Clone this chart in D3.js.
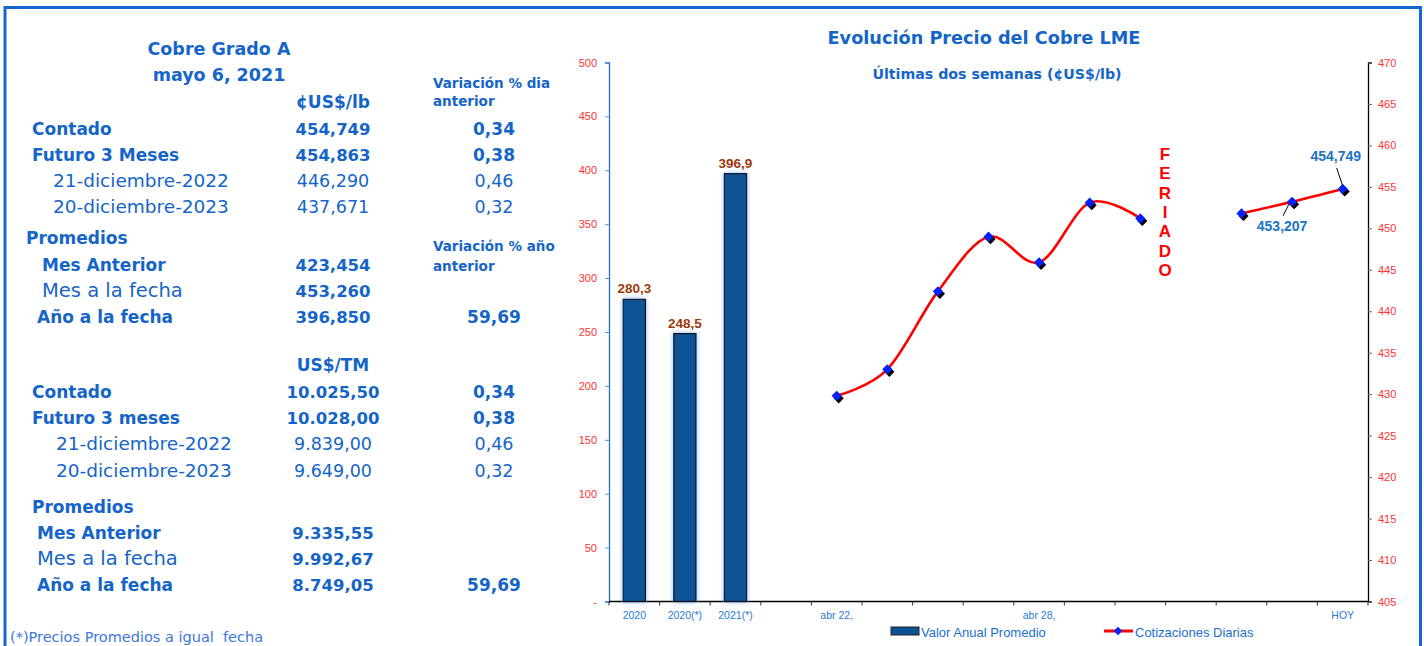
<!DOCTYPE html>
<html>
<head>
<meta charset="utf-8">
<script src="https://cdn.jsdelivr.net/npm/d3@7"></script>
<style>
  body { margin: 0; background: #fff; }
  svg { display: block; }
</style>
</head>
<body>
<script>
"use strict";

// ---- data ----
const categories = ["2020", "2020(*)", "2021(*)", "", "abr 22,", "", "", "", "abr 28,", "", "", "", "", "", "HOY"]
const barValues = [280.3, 248.5, 396.9]
const barLabels = ["280,3", "248,5", "396,9"]
const dailyValues = [null, null, null, null, 429.8, 433.0, 442.4, 449.0, 445.9, 453.1, 451.2, null, 451.8, 453.207, 454.749]
const leftTicks = [0, 50, 100, 150, 200, 250, 300, 350, 400, 450, 500]
const rightTicks = [405, 410, 415, 420, 425, 430, 435, 440, 445, 450, 455, 460, 465, 470]

// table: ¢US$/lb
const lbLabels = ["Contado", "Futuro 3 Meses", "21-diciembre-2022", "20-diciembre-2023"]
const lbValues = ["454,749", "454,863", "446,290", "437,671"]
const lbDayVar = ["0,34", "0,38", "0,46", "0,32"]
const lbAvgLabels = ["Mes Anterior", "Mes a la fecha", "Año a la fecha"]
const lbAvgValues = ["423,454", "453,260", "396,850"]
const lbYearVar = ["", "", "59,69"]

// table: US$/TM
const tmLabels = ["Contado", "Futuro 3 meses", "21-diciembre-2022", "20-diciembre-2023"]
const tmValues = ["10.025,50", "10.028,00", "9.839,00", "9.649,00"]
const tmDayVar = ["0,34", "0,38", "0,46", "0,32"]
const tmAvgLabels = ["Mes Anterior", "Mes a la fecha", "Año a la fecha"]
const tmAvgValues = ["9.335,55", "9.992,67", "8.749,05"]
const tmYearVar = ["", "", "59,69"]

const W = 1424, H = 646
const blue = "#1565c8"
const tableFont = "'DejaVu Sans', sans-serif"
const chartFont = "'Liberation Sans', Arial, sans-serif"

const svg = d3.select("body").append("svg")
    .attr("width", W)
    .attr("height", H)

// frame
svg.append("path")
    .attr("d", "M5,646 V7.5 H1420.5 V646")
    .attr("fill", "none")
    .attr("stroke", "#1466d0")
    .attr("stroke-width", 3)

// ---------- left table ----------
function txt(x, y, s, size, bold, anchor, color) {
    svg.append("text")
        .attr("x", x)
        .attr("y", y)
        .attr("text-anchor", anchor || "start")
        .style("font-family", tableFont)
        .style("font-size", size + "px")
        .style("font-weight", bold ? "bold" : "normal")
        .style("white-space", "pre")
        .style("fill", color || blue)
        .text(s)
}

const numX = 333, pctX = 494
const boldSize = 17, thinSize = 18.5, numThin = 17.5

txt(219, 55, "Cobre Grado A", 17.5, true, "middle")
txt(219, 81, "mayo 6, 2021", 17.5, true, "middle")
txt(numX, 108, "¢US$/lb", 17, true, "middle")
txt(433, 88, "Variación % dia", 13.5, true)
txt(433, 106, "anterior", 13.5, true)

// block 1
const lbRowY = [135, 161, 187, 213]
const lbRowX = [32, 32, 53, 53]
const lbBold = [true, true, false, false]
lbLabels.forEach((s, i) => {
    txt(lbRowX[i], lbRowY[i], s, lbBold[i] ? boldSize : thinSize, lbBold[i])
    txt(numX, lbRowY[i], lbValues[i], lbBold[i] ? 16.5 : numThin, lbBold[i], "middle")
    txt(pctX, lbRowY[i], lbDayVar[i], lbBold[i] ? boldSize : numThin, lbBold[i], "middle")
})
txt(26, 244, "Promedios", boldSize, true)
txt(433, 251, "Variación % año", 13.5, true)
txt(433, 271, "anterior", 13.5, true)
const lbAvgY = [271, 297, 323]
const lbAvgX = [42, 42, 37]
const avgBold = [true, false, true]
lbAvgLabels.forEach((s, i) => {
    txt(lbAvgX[i], lbAvgY[i], s, avgBold[i] ? boldSize : thinSize + 1, avgBold[i])
    txt(numX, lbAvgY[i], lbAvgValues[i], 16.5, true, "middle")
    if (lbYearVar[i]) txt(pctX, lbAvgY[i], lbYearVar[i], boldSize, true, "middle")
})

// block 2
txt(numX, 371, "US$/TM", 17, true, "middle")
const tmRowY = [398, 424, 450, 477]
const tmRowX = [32, 32, 56, 56]
tmLabels.forEach((s, i) => {
    txt(tmRowX[i], tmRowY[i], s, lbBold[i] ? boldSize : thinSize, lbBold[i])
    txt(numX, tmRowY[i], tmValues[i], lbBold[i] ? 16.5 : numThin, lbBold[i], "middle")
    txt(pctX, tmRowY[i], tmDayVar[i], lbBold[i] ? boldSize : numThin, lbBold[i], "middle")
})
txt(32, 513, "Promedios", boldSize, true)
const tmAvgY = [539, 565, 591]
tmAvgLabels.forEach((s, i) => {
    txt(37, tmAvgY[i], s, avgBold[i] ? boldSize : thinSize + 1, avgBold[i])
    txt(numX, tmAvgY[i], tmAvgValues[i], 16.5, true, "middle")
    if (tmYearVar[i]) txt(pctX, tmAvgY[i], tmYearVar[i], boldSize, true, "middle")
})

txt(10, 642, "(*)Precios Promedios a igual  fecha", 14.5, false, "start", "#3d78e0")

// ---------- chart ----------
const plot = { left: 609, right: 1368, top: 62.5, bottom: 601.5 }

const x = d3.scaleBand()
    .domain(d3.range(categories.length))
    .range([plot.left, plot.right])

const yLeft = d3.scaleLinear()
    .domain([0, 500])
    .range([plot.bottom, plot.top])

const yRight = d3.scaleLinear()
    .domain([405, 470])
    .range([plot.bottom, plot.top])

// titles
svg.append("text")
    .attr("x", 984).attr("y", 44)
    .attr("text-anchor", "middle")
    .style("font-family", tableFont)
    .style("font-size", "17.7px")
    .style("font-weight", "bold")
    .style("fill", blue)
    .text("Evolución Precio del Cobre LME")

svg.append("text")
    .attr("x", 997).attr("y", 79)
    .attr("text-anchor", "middle")
    .style("font-family", tableFont)
    .style("font-size", "14.2px")
    .style("font-weight", "bold")
    .style("fill", blue)
    .text("Últimas dos semanas (¢US$/lb)")

// glow behind bars
const defs = svg.append("defs")
defs.append("filter")
    .attr("id", "glow")
    .attr("x", "-50%").attr("y", "-10%")
    .attr("width", "200%").attr("height", "120%")
    .append("feDropShadow")
    .attr("dx", 0).attr("dy", 0)
    .attr("stdDeviation", 2.2)
    .attr("flood-color", "#6fa8ff")
    .attr("flood-opacity", 0.9)

// left axis
const gLeft = svg.append("g")
    .attr("transform", `translate(${plot.left},0)`)
    .call(d3.axisLeft(yLeft)
        .tickValues(leftTicks)
        .tickSize(4)
        .tickPadding(8)
        .tickFormat(d => d === 0 ? "-" : d))
gLeft.select(".domain").attr("stroke", "#1a6fd0").attr("stroke-width", 1.3)
gLeft.selectAll(".tick line").attr("stroke", "#5a8fd8")
gLeft.selectAll(".tick text")
    .style("font-family", chartFont)
    .style("font-size", "11px")
    .style("fill", "#ff3333")

// right axis
const gRight = svg.append("g")
    .attr("transform", `translate(${plot.right},0)`)
    .call(d3.axisRight(yRight)
        .tickValues(rightTicks)
        .tickSize(4)
        .tickPadding(6))
gRight.select(".domain").attr("stroke", "#000").attr("stroke-width", 1.3)
gRight.selectAll(".tick line").attr("stroke", "#666")
gRight.selectAll(".tick text")
    .style("font-family", chartFont)
    .style("font-size", "11px")
    .style("fill", "#ff3333")

// x axis
svg.append("line")
    .attr("x1", plot.left).attr("x2", plot.right)
    .attr("y1", plot.bottom).attr("y2", plot.bottom)
    .attr("stroke", "#000").attr("stroke-width", 1.5)

svg.selectAll(".xtick")
    .data(d3.range(categories.length + 1))
    .enter()
    .append("line")
    .attr("class", "xtick")
    .attr("x1", i => plot.left + i * x.step())
    .attr("x2", i => plot.left + i * x.step())
    .attr("y1", plot.bottom)
    .attr("y2", plot.bottom + 4)
    .attr("stroke", "#333")

const gX = svg.append("g")
    .attr("transform", `translate(0,${plot.bottom})`)
    .call(d3.axisBottom(x).tickSize(0).tickPadding(10).tickFormat(i => categories[i]))
gX.select(".domain").remove()
gX.selectAll(".tick text")
    .style("font-family", chartFont)
    .style("font-size", "10.5px")
    .style("fill", "#2a7ad5")

// bars
const barW = x.bandwidth() * 0.44
svg.selectAll(".bar")
    .data(barValues)
    .enter()
    .append("rect")
    .attr("class", "bar")
    .attr("x", (d, i) => x(i) + x.bandwidth() / 2 - barW / 2)
    .attr("y", d => yLeft(d))
    .attr("width", barW)
    .attr("height", d => yLeft(0) - yLeft(d))
    .attr("fill", "#0e5296")
    .attr("stroke", "#111")
    .attr("stroke-width", 1.2)
    .attr("filter", "url(#glow)")

svg.selectAll(".barlabel")
    .data(barValues)
    .enter()
    .append("text")
    .attr("x", (d, i) => x(i) + x.bandwidth() / 2)
    .attr("y", d => yLeft(d) - 6)
    .attr("text-anchor", "middle")
    .style("font-family", chartFont)
    .style("font-size", "13.5px")
    .style("font-weight", "bold")
    .style("fill", "#9c3a0c")
    .text((d, i) => barLabels[i])

// daily line
const pts = dailyValues.map((v, i) => ({ i: i, v: v }))
const cx = d => x(d.i) + x.bandwidth() / 2

const line = d3.line()
    .defined(d => d.v != null)
    .x(cx)
    .y(d => yRight(d.v))
    .curve(d3.curveCardinal.tension(0))

svg.append("path")
    .datum(pts)
    .attr("d", line)
    .attr("fill", "none")
    .attr("stroke", "#ff0000")
    .attr("stroke-width", 2.6)

const valid = pts.filter(d => d.v != null)
function diamond(sel, dx, dy, color) {
    sel.selectAll(null)
        .data(valid)
        .enter()
        .append("rect")
        .attr("x", -3.6).attr("y", -3.6)
        .attr("width", 7.2).attr("height", 7.2)
        .attr("transform", d => `translate(${cx(d) + dx},${yRight(d.v) + dy}) rotate(45)`)
        .attr("fill", color)
}
const gMarks = svg.append("g")
diamond(gMarks, 2, 2.5, "#000")
diamond(gMarks, 0, 0, "#0022ff")

// point labels
const ptLabels = [
    { i: 13, text: "453,207", lx: -10, ly: 29, ax: -9, ay: 14, bx: -3, by: 2 },
    { i: 14, text: "454,749", lx: -7, ly: -28, ax: -6, ay: -21, bx: 0, by: -3 }
]
ptLabels.forEach(p => {
    const px = x(p.i) + x.bandwidth() / 2
    const py = yRight(dailyValues[p.i])
    svg.append("line")
        .attr("x1", px + p.ax).attr("y1", py + p.ay)
        .attr("x2", px + p.bx).attr("y2", py + p.by)
        .attr("stroke", "#000").attr("stroke-width", 1)
    svg.append("text")
        .attr("x", px + p.lx)
        .attr("y", py + p.ly)
        .attr("text-anchor", "middle")
        .style("font-family", chartFont)
        .style("font-size", "14px")
        .style("font-weight", "bold")
        .style("fill", "#1b75c4")
        .text(p.text)
})

// holiday label
const feriado = "FERIADO".split("")
svg.selectAll(".feriado")
    .data(feriado)
    .enter()
    .append("text")
    .attr("x", 1165)
    .attr("y", (d, i) => 160 + i * 19.3)
    .attr("text-anchor", "middle")
    .style("font-family", chartFont)
    .style("font-size", "17px")
    .style("font-weight", "bold")
    .style("fill", "#ff0000")
    .text(d => d)

// legend
const lg = svg.append("g")
lg.append("rect")
    .attr("x", 891).attr("y", 627)
    .attr("width", 28).attr("height", 8)
    .attr("fill", "#0e5296").attr("stroke", "#222")
lg.append("text")
    .attr("x", 921).attr("y", 637)
    .style("font-family", chartFont)
    .style("font-size", "13px")
    .style("fill", "#1a6fd0")
    .text("Valor Anual Promedio")
lg.append("line")
    .attr("x1", 1104).attr("x2", 1133)
    .attr("y1", 631).attr("y2", 631)
    .attr("stroke", "#ff0000").attr("stroke-width", 3)
lg.append("rect")
    .attr("x", -3).attr("y", -3).attr("width", 6).attr("height", 6)
    .attr("transform", "translate(1118,631) rotate(45)")
    .attr("fill", "#0022ff")
lg.append("text")
    .attr("x", 1135).attr("y", 637)
    .style("font-family", chartFont)
    .style("font-size", "13px")
    .style("fill", "#1a6fd0")
    .text("Cotizaciones Diarias")
</script>
</body>
</html>
